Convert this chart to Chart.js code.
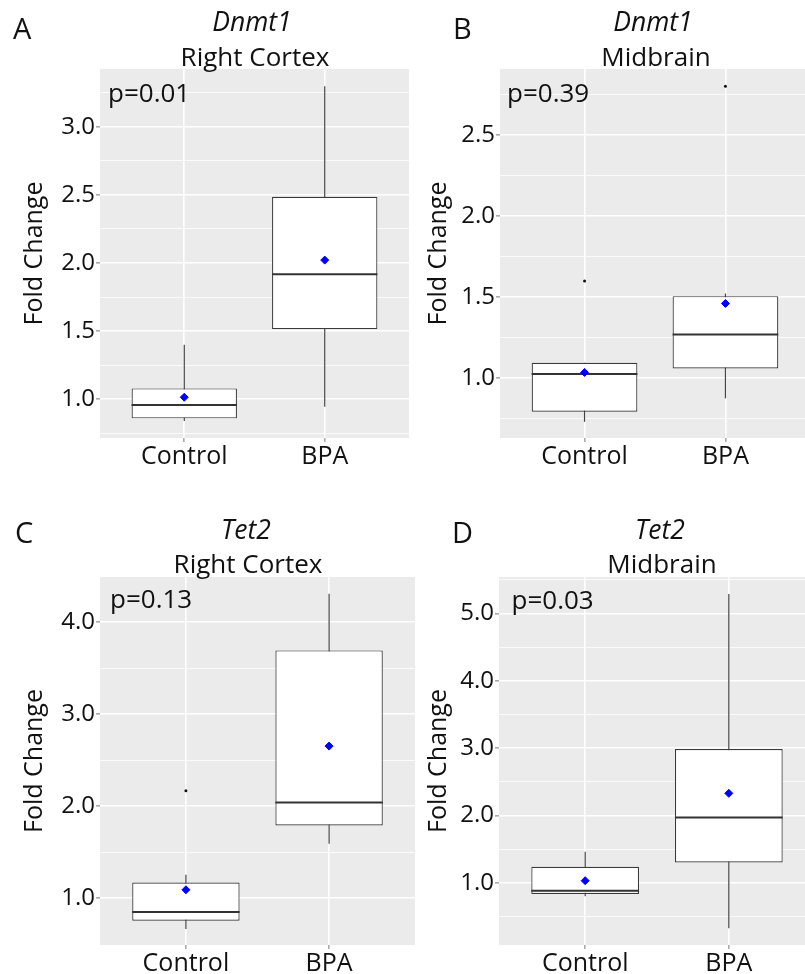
<!DOCTYPE html>
<html>
<head>
<meta charset="utf-8">
<script src="https://cdn.jsdelivr.net/npm/chart.js@4.4.0/dist/chart.umd.min.js"></script>
<style>
html, body { margin: 0; padding: 0; background: #fff; overflow: hidden; width: 805px; height: 974px; }
body { position: relative; font-family: "Open Sans", sans-serif; color: #111; }
canvas { position: absolute; }
.t { position: absolute; line-height: 1; white-space: nowrap; }
</style>
</head>
<body>
<canvas id="cA" width="414" height="480" style="left:0;top:0"></canvas>
<canvas id="cB" width="415" height="480" style="left:400px;top:0"></canvas>
<canvas id="cC" width="420" height="484" style="left:0;top:490px"></canvas>
<canvas id="cD" width="420" height="484" style="left:400px;top:490px"></canvas>
<script>
const groups = ["Control", "BPA"];

// A - Dnmt1, Right Cortex
const lowA = [0.84, 0.946];
const q1A = [0.86, 1.515];
const medA = [0.958, 1.918];
const q3A = [1.08, 2.485];
const highA = [1.40, 3.297];
const meanA = [1.015, 2.021];
const outA = [[], []];
const majorA = [1.0, 1.5, 2.0, 2.5, 3.0];
const minorA = [0.75, 1.25, 1.75, 2.25, 2.75, 3.25];

// B - Dnmt1, Midbrain
const lowB = [0.728, 0.873];
const q1B = [0.79, 1.058];
const medB = [1.023, 1.268];
const q3B = [1.093, 1.504];
const highB = [1.093, 1.52];
const meanB = [1.033, 1.459];
const outB = [[1.597], [2.80]];
const majorB = [1.0, 1.5, 2.0, 2.5];
const minorB = [0.75, 1.25, 1.75, 2.25, 2.75];

// C - Tet2, Right Cortex
const lowC = [0.663, 1.59];
const q1C = [0.754, 1.79];
const medC = [0.848, 2.04];
const q3C = [1.17, 3.692];
const highC = [1.254, 4.308];
const meanC = [1.09, 2.652];
const outC = [[2.167], []];
const majorC = [1.0, 2.0, 3.0, 4.0];
const minorC = [1.5, 2.5, 3.5];

// D - Tet2, Midbrain
const lowD = [0.80, 0.322];
const q1D = [0.832, 1.302];
const medD = [0.881, 1.97];
const q3D = [1.238, 2.985];
const highD = [1.46, 5.287];
const meanD = [1.03, 2.327];
const outD = [[], []];
const majorD = [1.0, 2.0, 3.0, 4.0, 5.0];
const minorD = [0.5, 1.5, 2.5, 3.5, 4.5, 5.5];

Chart.defaults.font.family = '"Open Sans", sans-serif';

const panelBg = {
    id: "panelBg",
    beforeDraw(chart) {
        const a = chart.chartArea;
        chart.ctx.save();
        chart.ctx.fillStyle = "#EBEBEB";
        chart.ctx.fillRect(a.left, a.top, a.width, a.height);
        chart.ctx.restore();
    }
};

const pLabel = {
    id: "pLabel",
    afterDatasetsDraw(chart, args, o) {
        const a = chart.chartArea;
        const ctx = chart.ctx;
        ctx.save();
        ctx.font = '26px "Open Sans"';
        ctx.fillStyle = "#111";
        ctx.textBaseline = "alphabetic";
        ctx.fillText(o.text, a.left + o.dx, a.top + o.dy);
        ctx.restore();
    }
};

function boxChart(id, p) {
    const whiskers = p.low.map((v, i) => ({ x: i + 1, y: [v, p.high[i]] }));
    const boxes = p.q1.map((v, i) => ({ x: i + 1, y: [v, p.q3[i]] }));
    const medians = p.med.map((v, i) => ({ x: i + 1, y: v }));
    const means = p.mean.map((v, i) => ({ x: i + 1, y: v }));
    const outs = [];
    p.out.forEach((arr, i) => arr.forEach(v => outs.push({ x: i + 1, y: v })));
    const isMajor = v => p.major.includes(v);

    new Chart(document.getElementById(id), {
        type: "bar",
        data: {
            datasets: [
                {
                    label: "whisker",
                    data: whiskers,
                    grouped: false,
                    maxBarThickness: 1.2,
                    backgroundColor: "#444",
                    borderWidth: 0,
                    order: 5,
                },
                {
                    label: "box",
                    data: boxes,
                    grouped: false,
                    categoryPercentage: 0.75,
                    barPercentage: 1,
                    backgroundColor: "#fff",
                    borderColor: "#3a3a3a",
                    borderWidth: 1.2,
                    borderSkipped: false,
                    order: 4,
                },
                {
                    type: "scatter",
                    label: "median",
                    data: medians,
                    pointStyle: "line",
                    pointRadius: c => {
                        const x = c.chart.scales.x;
                        return x.getPixelForValue(1.375) - x.getPixelForValue(1);
                    },
                    pointBorderColor: "#333",
                    pointBorderWidth: 2,
                    order: 3,
                },
                {
                    type: "scatter",
                    label: "outlier",
                    data: outs,
                    pointRadius: 1.5,
                    pointBackgroundColor: "#111",
                    pointBorderWidth: 0,
                    order: 2,
                },
                {
                    type: "scatter",
                    label: "mean",
                    data: means,
                    pointStyle: "rectRot",
                    pointRadius: 4,
                    pointBackgroundColor: "#0000FF",
                    pointBorderColor: "#0000FF",
                    pointBorderWidth: 1,
                    order: 1,
                },
            ],
        },
        options: {
            responsive: false,
            animation: false,
            events: [],
            layout: { padding: { top: p.padTop, left: 0, right: 0, bottom: 0 } },
            plugins: {
                legend: { display: false },
                tooltip: { enabled: false },
                pLabel: { text: p.pText, dx: p.pdx, dy: p.pdy },
            },
            scales: {
                x: {
                    type: "linear",
                    min: 0.4,
                    max: 2.6,
                    offset: false,
                    afterBuildTicks: s => { s.ticks = [{ value: 1 }, { value: 2 }]; },
                    afterFit: s => { s.height = p.xh; },
                    ticks: {
                        callback: v => groups[v - 1],
                        font: { size: 25 },
                        color: "#111",
                        padding: 0,
                        maxRotation: 0,
                        autoSkip: false,
                    },
                    grid: { offset: false, color: "#fff", lineWidth: 1.6, tickColor: "#aaa", tickLength: 4 },
                    border: { display: false },
                },
                y: {
                    type: "linear",
                    min: p.min,
                    max: p.max,
                    afterBuildTicks: s => {
                        s.ticks = p.major.concat(p.minor).sort((a, b) => a - b).map(v => ({ value: v }));
                    },
                    afterFit: s => { s.width = p.yw; },
                    ticks: {
                        callback: v => isMajor(v) ? v.toFixed(1) : "",
                        font: { size: 24 },
                        color: "#111",
                        padding: 1,
                    },
                    grid: {
                        color: "#fff",
                        lineWidth: c => (c.tick && isMajor(c.tick.value)) ? 1.6 : 0.8,
                        tickColor: c => (c.tick && isMajor(c.tick.value)) ? "#aaa" : "rgba(0,0,0,0)",
                        tickLength: 4,
                    },
                    border: { display: false },
                    title: {
                        display: true,
                        text: "Fold Change",
                        font: { size: 25 },
                        color: "#111",
                        padding: { top: p.titlePad, bottom: 0 },
                    },
                },
            },
        },
        plugins: [panelBg, pLabel],
    });
}

boxChart("cA", { low: lowA, q1: q1A, med: medA, q3: q3A, high: highA, mean: meanA, out: outA,
    major: majorA, minor: minorA, min: 0.716, max: 3.423,
    padTop: 69, xh: 42, yw: 100, titlePad: 20, pText: "p=0.01", pdx: 8, pdy: 33 });
boxChart("cB", { low: lowB, q1: q1B, med: medB, q3: q3B, high: highB, mean: meanB, out: outB,
    major: majorB, minor: minorB, min: 0.628, max: 2.907,
    padTop: 69, xh: 42, yw: 100, titlePad: 24, pText: "p=0.39", pdx: 7, pdy: 33 });
boxChart("cC", { low: lowC, q1: q1C, med: medC, q3: q3C, high: highC, mean: meanC, out: outC,
    major: majorC, minor: minorC, min: 0.49, max: 4.49,
    padTop: 87, xh: 29, yw: 100, titlePad: 20, pText: "p=0.13", pdx: 10, pdy: 31 });
boxChart("cD", { low: lowD, q1: q1D, med: medD, q3: q3D, high: highD, mean: meanD, out: outD,
    major: majorD, minor: minorD, min: 0.075, max: 5.54,
    padTop: 87, xh: 29, yw: 99, titlePad: 24, pText: "p=0.03", pdx: 12.5, pdy: 32 });

// titles and panel letters, placed by baseline
function addText(txt, x, baseline, size, opts) {
    const d = document.createElement("div");
    d.className = "t";
    d.textContent = txt;
    d.style.fontSize = size + "px";
    d.style.top = (baseline - 0.888 * size) + "px";
    d.style.left = x + "px";
    if (opts.center) d.style.transform = "translateX(-50%)";
    if (opts.italic) d.style.fontStyle = "italic";
    document.body.appendChild(d);
}

addText("A", 13, 39, 29, {});
addText("B", 453, 39, 29, {});
addText("C", 15, 543, 29, {});
addText("D", 452, 543, 29, {});

addText("Dnmt1", 252, 31.7, 26.5, { center: true, italic: true });
addText("Right Cortex", 255, 65.7, 26, { center: true });
addText("Dnmt1", 653, 31.7, 26.5, { center: true, italic: true });
addText("Midbrain", 656, 65.7, 26, { center: true });
addText("Tet2", 246, 539.3, 26.5, { center: true, italic: true });
addText("Right Cortex", 248, 573.3, 26, { center: true });
addText("Tet2", 660, 540, 26.5, { center: true, italic: true });
addText("Midbrain", 662, 573.3, 26, { center: true });
</script>
</body>
</html>
